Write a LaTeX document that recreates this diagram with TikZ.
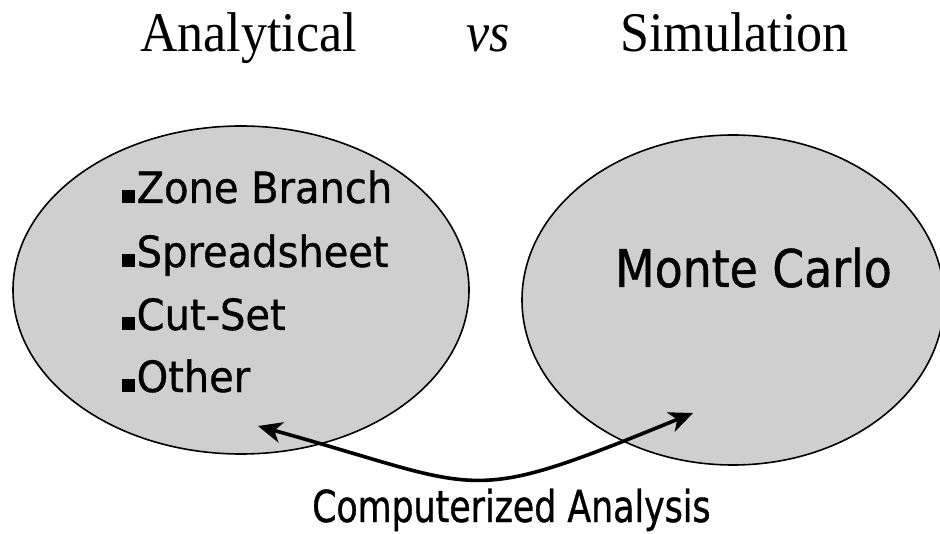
\documentclass[tikz,border=0pt]{standalone}
\usepackage{fontspec}
\usetikzlibrary{arrows.meta}
\newfontfamily\titlefont[FakeStretch=0.93]{Liberation Serif}
\newfontfamily\listfont[FakeStretch=0.93,FakeBold=0.8]{DejaVu Sans}
\newfontfamily\montefont[FakeStretch=0.88,FakeBold=0.8]{DejaVu Sans}
\newfontfamily\compfont[FakeStretch=0.79,FakeBold=0.8]{DejaVu Sans}
\definecolor{blobgray}{gray}{0.81}
\tikzset{
  blob/.style={fill=blobgray, draw=black, line width=1.6bp},
  titletext/.style={inner sep=0pt, anchor=base west, font=\titlefont\fontsize{56bp}{64bp}\selectfont},
  itemtext/.style={inner sep=0pt, anchor=base west, font=\listfont\fontsize{43bp}{50bp}\selectfont},
  montetext/.style={inner sep=0pt, anchor=base west, font=\montefont\fontsize{52bp}{60bp}\selectfont},
  comptext/.style={inner sep=0pt, anchor=base west, font=\compfont\fontsize{44bp}{50bp}\selectfont},
  linkarrow/.style={line width=3.6bp, {Stealth[length=24bp,width=21bp,inset=7bp]}-{Stealth[length=24bp,width=21bp,inset=7bp]}}
}
\newcommand{\itembullet}{\rule{13bp}{13bp}\hspace{1.5bp}}
\begin{document}
\begin{tikzpicture}[x=1bp,y=-1bp]
\useasboundingbox (0,0) rectangle (940,534);
\clip (0,0) rectangle (940,534);
% title
\node[titletext] (tA) at (140,52) {Analytical};
\node[titletext] (tvs) at (466,52) {\itshape vs};
\node[titletext] (tS) at (620,52) {Simulation};
% ellipses
\draw[blob] (241,290) ellipse [x radius=228, y radius=164];
\draw[blob] (733,300) ellipse [x radius=211, y radius=165];
% list
\node[itemtext] (i1) at (122,203) {\itembullet Zone Branch};
\node[itemtext] (i2) at (122,267) {\itembullet Spreadsheet};
\node[itemtext] (i3) at (122,330) {\itembullet Cut-Set};
\node[itemtext] (i4) at (122,392) {\itembullet Other};
\node[montetext] (mc) at (615,287) {Monte Carlo};
% connector
\coordinate (lefttip) at (258,426);
\coordinate (righttip) at (693,413);
\draw[linkarrow] (lefttip) .. controls (489,490) and (461,508) .. (righttip);
\node[comptext] (ca) at (312,522) {Computerized Analysis};
\end{tikzpicture}
\end{document}
